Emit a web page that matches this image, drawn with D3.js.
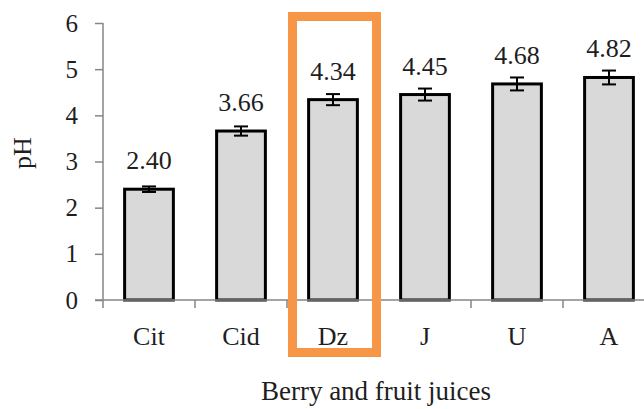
<!DOCTYPE html>
<html>
<head>
<meta charset="utf-8">
<script src="https://cdn.jsdelivr.net/npm/d3@7/dist/d3.min.js"></script>
<style>
  body { margin: 0; background: #fff; }
  svg { display: block; font-family: "Liberation Serif", "Times New Roman", serif; }
</style>
</head>
<body>
<svg id="chart" width="644" height="409"></svg>
<script>
// data
const juices = ["Cit", "Cid", "Dz", "J", "U", "A"];
const phValues = [2.40, 3.66, 4.34, 4.45, 4.68, 4.82];
const phErrors = [0.06, 0.10, 0.12, 0.13, 0.14, 0.15];
const yTicks = [0, 1, 2, 3, 4, 5, 6];
const highlighted = "Dz";

const data = juices.map((j, i) => ({ juice: j, ph: phValues[i], err: phErrors[i] }));

const serif = '"Liberation Serif", "Times New Roman", serif';
const textColor = "#1e1e1e";
const axisColor = "#868686";

const svg = d3.select("#chart");
const plotLeft = 103, plotRight = 655, plotTop = 23, plotBottom = 300;

const x = d3.scaleBand()
  .domain(juices)
  .range([plotLeft, plotRight])
  .paddingInner(0)
  .paddingOuter(0);

const y = d3.scaleLinear()
  .domain([0, 6])
  .range([plotBottom, plotTop]);

const barW = x.bandwidth() * 0.53;

// bars
svg.selectAll("rect.bar")
  .data(data)
  .enter()
  .append("rect")
  .attr("class", "bar")
  .attr("x", d => x(d.juice) + (x.bandwidth() - barW) / 2)
  .attr("y", d => y(d.ph))
  .attr("width", barW)
  .attr("height", d => y(0) - y(d.ph))
  .attr("fill", "#d9d9d9")
  .attr("stroke", "#000")
  .attr("stroke-width", 3);

// error bars
const eb = svg.selectAll("g.err")
  .data(data)
  .enter()
  .append("g")
  .attr("class", "err")
  .attr("stroke", "#000")
  .attr("stroke-width", 2);

eb.append("line")
  .attr("x1", d => x(d.juice) + x.bandwidth() / 2)
  .attr("x2", d => x(d.juice) + x.bandwidth() / 2)
  .attr("y1", d => y(d.ph + d.err))
  .attr("y2", d => y(d.ph - d.err));

[1, -1].forEach(s => {
  eb.append("line")
    .attr("x1", d => x(d.juice) + x.bandwidth() / 2 - 7)
    .attr("x2", d => x(d.juice) + x.bandwidth() / 2 + 7)
    .attr("y1", d => y(d.ph + s * d.err))
    .attr("y2", d => y(d.ph + s * d.err));
});

// value labels
svg.selectAll("text.val")
  .data(data)
  .enter()
  .append("text")
  .attr("class", "val")
  .attr("x", d => x(d.juice) + x.bandwidth() / 2)
  .attr("y", d => y(d.ph) - 20)
  .attr("text-anchor", "middle")
  .style("font-family", serif)
  .style("font-size", "26px")
  .style("fill", textColor)
  .text(d => d.ph.toFixed(2));

// y axis
const yAxis = svg.append("g")
  .attr("transform", `translate(${plotLeft},0)`)
  .call(d3.axisLeft(y).tickValues(yTicks).tickSize(8).tickPadding(17).tickFormat(d3.format("d")));
yAxis.select(".domain").attr("stroke", axisColor).attr("stroke-width", 1.5).attr("d", `M0,${plotTop}V${plotBottom}`);
yAxis.selectAll(".tick line").attr("stroke", axisColor).attr("stroke-width", 1.5);
yAxis.selectAll("text")
  .style("font-family", serif)
  .style("font-size", "25px")
  .style("fill", textColor);

// x axis
const xAxis = svg.append("g")
  .attr("transform", `translate(0,${plotBottom})`)
  .call(d3.axisBottom(x).tickSize(0).tickPadding(0));
xAxis.select(".domain").attr("stroke", axisColor).attr("stroke-width", 1.5).attr("d", `M${plotLeft - 8},0H${plotRight}`);
xAxis.selectAll("text")
  .attr("dy", null)
  .attr("y", 45)
  .style("font-family", serif)
  .style("font-size", "26px")
  .style("fill", textColor);

// category boundary ticks
svg.append("g")
  .selectAll("line")
  .data(juices.concat([null]))
  .enter()
  .append("line")
  .attr("x1", (d, i) => plotLeft + i * x.step())
  .attr("x2", (d, i) => plotLeft + i * x.step())
  .attr("y1", plotBottom)
  .attr("y2", plotBottom + 8)
  .attr("stroke", axisColor)
  .attr("stroke-width", 1.5);

// axis titles
svg.append("text")
  .attr("transform", "rotate(-90)")
  .attr("x", -153)
  .attr("y", 31)
  .attr("text-anchor", "middle")
  .style("font-family", serif)
  .style("font-size", "26px")
  .style("fill", textColor)
  .text("pH");

svg.append("text")
  .attr("x", 376)
  .attr("y", 400)
  .attr("text-anchor", "middle")
  .style("font-family", serif)
  .style("font-size", "27px")
  .style("fill", textColor)
  .text("Berry and fruit juices");

// highlight box around Dz
svg.append("rect")
  .attr("x", x(highlighted) + 5.5)
  .attr("y", 16.5)
  .attr("width", x.bandwidth() - 8)
  .attr("height", 336)
  .attr("fill", "none")
  .attr("stroke", "#f79646")
  .attr("stroke-width", 9);
</script>
</body>
</html>
